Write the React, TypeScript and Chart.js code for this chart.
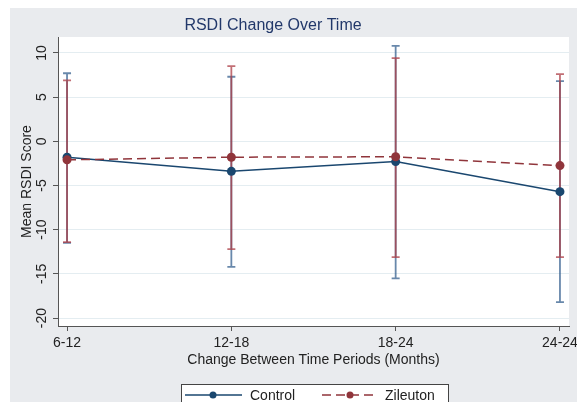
import React, { useEffect, useRef } from 'react';
import { Chart, registerables } from 'chart.js';
Chart.register(...registerables);

const categories = ['6-12', '12-18', '18-24', '24-24'];
const controlMean = [-1.8, -3.4, -2.3, -5.7];
const controlLow = [-11.5, -14.2, -15.5, -18.2];
const controlHigh = [7.7, 7.3, 10.8, 6.8];
const zileutonMean = [-2.1, -1.8, -1.75, -2.75];
const zileutonLow = [-11.4, -12.2, -13.1, -13.1];
const zileutonHigh = [6.9, 8.5, 9.4, 7.6];
const yTicks = [-20, -15, -10, -5, 0, 5, 10];
const titleText = 'RSDI Change Over Time';
const xTitle = 'Change Between Time Periods (Months)';
const yTitle = 'Mean RSDI Score';
const seriesNames = ['Control', 'Zileuton'];

const W = 577;
const H = 402;
const BLUE = '#1a476f';
const RED = '#90353b';
const BLUE_BAR = 'rgba(40,85,135,0.7)';
const RED_BAR = 'rgba(172,62,70,0.75)';
const BG = '#e9ebee';
const FONT = '"Liberation Sans", Arial, sans-serif';

const decor = {
  id: 'decor',
  beforeDraw(chart: any) {
    const { ctx, chartArea: a } = chart;
    ctx.save();
    ctx.fillStyle = '#ffffff';
    ctx.fillRect(0, 0, W, H);
    ctx.fillStyle = BG;
    ctx.fillRect(10, 8, W - 10, H - 8);
    ctx.fillStyle = '#ffffff';
    ctx.fillRect(a.left, a.top, a.right - a.left, a.bottom - a.top);
    ctx.restore();
  },
  beforeDatasetsDraw(chart: any) {
    const { ctx } = chart;
    const xs = chart.scales.x;
    const ys = chart.scales.y;
    const draw = (lo: number[], hi: number[], color: string) => {
      ctx.save();
      ctx.strokeStyle = color;
      ctx.lineWidth = 1.8;
      lo.forEach((l, i) => {
        const x = xs.getPixelForValue(i);
        const y1 = ys.getPixelForValue(l);
        const y2 = ys.getPixelForValue(hi[i]);
        ctx.beginPath();
        ctx.moveTo(x, y1);
        ctx.lineTo(x, y2);
        ctx.moveTo(x - 4, y1);
        ctx.lineTo(x + 4, y1);
        ctx.moveTo(x - 4, y2);
        ctx.lineTo(x + 4, y2);
        ctx.stroke();
      });
      ctx.restore();
    };
    draw(controlLow, controlHigh, BLUE_BAR);
    draw(zileutonLow, zileutonHigh, RED_BAR);
  },
  afterDraw(chart: any) {
    const { ctx, chartArea: a } = chart;
    const xs = chart.scales.x;
    const ys = chart.scales.y;
    ctx.save();
    // title
    ctx.fillStyle = '#22386a';
    ctx.font = `16px ${FONT}`;
    ctx.textAlign = 'center';
    ctx.textBaseline = 'alphabetic';
    ctx.fillText(titleText, 273, 30);
    // y tick labels
    ctx.fillStyle = '#222222';
    ctx.font = `14px ${FONT}`;
    yTicks.forEach((v) => {
      ctx.save();
      ctx.translate(46, ys.getPixelForValue(v));
      ctx.rotate(-Math.PI / 2);
      ctx.textAlign = 'center';
      ctx.fillText(String(v), 0, 0);
      ctx.restore();
    });
    // y title
    ctx.save();
    ctx.translate(31, (a.top + a.bottom) / 2);
    ctx.rotate(-Math.PI / 2);
    ctx.textAlign = 'center';
    ctx.fillText(yTitle, 0, 0);
    ctx.restore();
    // x tick labels
    categories.forEach((c, i) => {
      ctx.textAlign = 'center';
      ctx.fillText(c, xs.getPixelForValue(i), 347);
    });
    // x title
    ctx.textAlign = 'center';
    ctx.fillText(xTitle, (a.left + a.right) / 2, 364);
    // legend
    ctx.fillStyle = '#ffffff';
    ctx.fillRect(181.5, 384.5, 267, 30);
    ctx.strokeStyle = '#444444';
    ctx.lineWidth = 1;
    ctx.strokeRect(181.5, 384.5, 267, 30);
    const ly = 395;
    ctx.lineWidth = 1.5;
    ctx.strokeStyle = BLUE;
    ctx.beginPath();
    ctx.moveTo(185, ly);
    ctx.lineTo(242, ly);
    ctx.stroke();
    ctx.fillStyle = BLUE;
    ctx.beginPath();
    ctx.arc(213, ly, 3.5, 0, Math.PI * 2);
    ctx.fill();
    ctx.strokeStyle = RED;
    ctx.setLineDash([9, 5]);
    ctx.beginPath();
    ctx.moveTo(322, ly);
    ctx.lineTo(377, ly);
    ctx.stroke();
    ctx.setLineDash([]);
    ctx.fillStyle = RED;
    ctx.beginPath();
    ctx.arc(350, ly, 3.5, 0, Math.PI * 2);
    ctx.fill();
    ctx.fillStyle = '#222222';
    ctx.textAlign = 'left';
    ctx.font = `14px ${FONT}`;
    ctx.fillText(seriesNames[0], 250, 400);
    ctx.fillText(seriesNames[1], 385, 400);
    ctx.restore();
  },
};

export default function App() {
  const ref = useRef<HTMLCanvasElement>(null);
  useEffect(() => {
    if (!ref.current) return;
    const chart = new Chart(ref.current, {
      type: 'line',
      data: {
        datasets: [
          {
            label: seriesNames[0],
            data: controlMean.map((v, i) => ({ x: i, y: v })),
            borderColor: BLUE,
            backgroundColor: BLUE,
            borderWidth: 1.5,
            pointRadius: 4.5,
            pointBorderWidth: 0,
            order: 2,
          },
          {
            label: seriesNames[1],
            data: zileutonMean.map((v, i) => ({ x: i, y: v })),
            borderColor: RED,
            backgroundColor: RED,
            borderWidth: 1.5,
            borderDash: [9, 5],
            pointRadius: 4.5,
            pointBorderWidth: 0,
            order: 1,
          },
        ],
      },
      options: {
        responsive: false,
        animation: false,
        layout: { padding: { left: 53, top: 37, right: 8, bottom: 71 } },
        plugins: { legend: { display: false }, title: { display: false }, tooltip: { enabled: false } },
        scales: {
          x: {
            type: 'linear',
            min: -0.055,
            max: 3.055,
            afterBuildTicks: (s: any) => {
              s.ticks = categories.map((_, i) => ({ value: i }));
            },
            ticks: { display: false },
            grid: { display: true, drawOnChartArea: false, drawTicks: true, tickLength: 5, tickColor: '#555555' },
            border: { display: true, color: '#555555', width: 1 },
          },
          y: {
            type: 'linear',
            min: -20.9,
            max: 11.8,
            afterBuildTicks: (s: any) => {
              s.ticks = yTicks.map((v) => ({ value: v }));
            },
            ticks: { display: false },
            grid: { display: true, color: '#e4edf1', lineWidth: 1, drawTicks: true, tickLength: 5, tickColor: '#555555' },
            border: { display: true, color: '#555555', width: 1 },
          },
        },
      },
      plugins: [decor],
    });
    return () => chart.destroy();
  }, []);
  return (
    <div style={{ position: 'absolute', left: 0, top: 0, width: W, height: H }}>
      <canvas ref={ref} width={W} height={H} style={{ display: 'block' }} />
    </div>
  );
}
